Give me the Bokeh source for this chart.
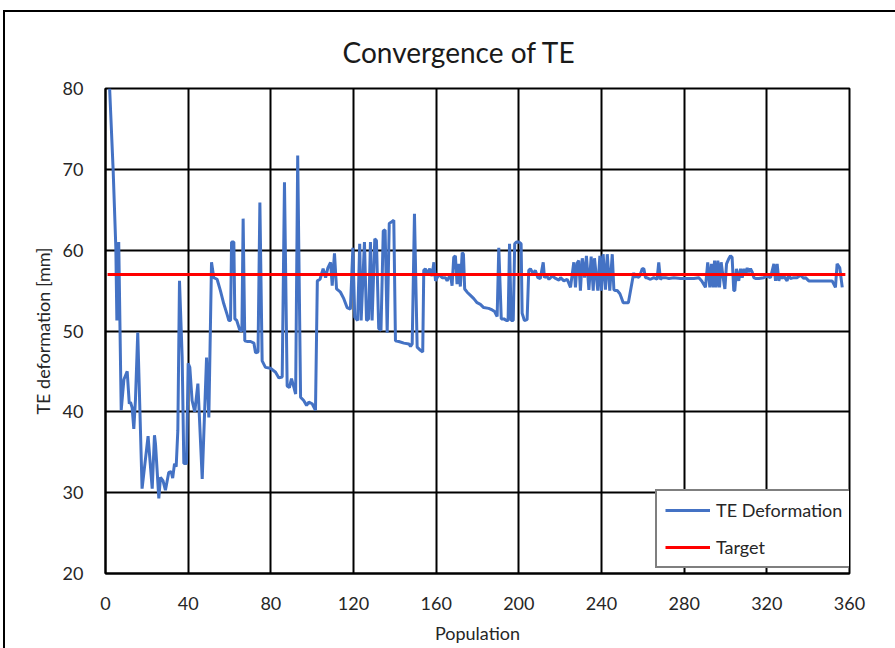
from bokeh.plotting import figure
from bokeh.models import Legend, LegendItem, FixedTicker, Range1d
from bokeh.embed import file_html
from bokeh.resources import INLINE

title_text = "Convergence of TE"
x_label = "Population"
y_label = "TE deformation [mm]"
series_name = "TE Deformation"
target_name = "Target"

x_ticks = [0, 40, 80, 120, 160, 200, 240, 280, 320, 360]
y_ticks = [20, 30, 40, 50, 60, 70, 80]

population = [
    2.0, 3.7, 5.0, 5.5, 6.4, 7.6, 8.9, 10.5, 11.5, 12.1, 12.9, 13.7, 14.5, 15.6,
    17.7, 20.6, 22.6, 23.7, 24.2, 25.8, 26.6, 27.8, 29.0, 30.6, 31.8, 32.5, 33.4,
    34.2, 35.0, 35.8, 37.1, 37.9, 39.2, 40.0, 40.8, 41.9, 43.2, 44.7, 46.8, 48.9,
    50.0, 51.3, 52.4, 54.0, 55.6, 57.2, 58.9, 59.7, 60.5, 61.0, 62.1, 62.6, 63.5,
    65.0, 66.0, 66.6, 67.4, 68.8, 70.2, 71.8, 72.6, 73.8, 74.7, 75.8, 77.4, 79.8,
    82.3, 83.9, 85.5, 86.6, 87.9, 89.0, 90.0, 91.2, 92.0, 93.0, 94.4, 95.9, 97.3,
    98.4, 100.0, 101.6, 102.5, 103.8, 105.3, 106.5, 107.6, 108.9, 109.7, 110.8,
    111.8, 113.7, 115.3, 116.9, 118.5, 119.7, 120.6, 122.0, 123.0, 123.7, 125.3,
    126.3, 127.3, 128.2, 129.0, 130.3, 131.1, 132.2, 133.3, 134.4, 135.3, 136.3,
    137.3, 138.4, 139.5, 140.3, 141.9, 144.4, 146.8, 147.6, 148.4, 149.5, 150.8,
    152.4, 153.5, 154.0, 154.8, 155.6, 156.9, 158.0, 158.9, 159.7, 161.3, 162.9,
    164.5, 165.3, 166.9, 167.7, 168.5, 169.3, 170.1, 170.9, 171.7, 172.6, 173.2,
    173.8, 175.0, 176.6, 178.2, 179.8, 181.4, 183.0, 185.4, 187.1, 188.3, 188.7,
    189.5, 190.3, 191.5, 192.8, 194.0, 194.8, 195.5, 196.3, 197.3, 198.0, 198.8,
    200.0, 201.1, 201.6, 202.7, 204.0, 204.8, 205.6, 206.9, 208.0, 209.2, 210.4,
    211.8, 212.4, 213.4, 214.6, 216.2, 217.8, 219.4, 220.2, 221.8, 223.4, 225.0,
    226.6, 227.4, 228.2, 229.0, 229.8, 230.7, 231.8, 232.7, 233.9, 235.0, 236.0,
    236.6, 238.2, 239.2, 239.9, 240.8, 241.9, 242.8, 244.0, 245.2, 246.0, 246.6,
    247.6, 248.9, 249.5, 250.5, 251.1, 253.0, 255.6, 256.1, 256.9, 257.6, 258.5,
    259.7, 260.5, 261.3, 261.8, 263.7, 265.3, 266.9, 267.7, 268.5, 269.4, 271.0,
    272.6, 275.0, 278.2, 279.8, 281.5, 284.7, 287.1, 288.5, 290.3, 291.4, 292.4,
    293.2, 294.0, 294.7, 295.5, 296.3, 297.1, 297.9, 298.7, 299.7, 300.5, 301.5,
    302.4, 303.2, 304.0, 304.5, 305.3, 306.4, 307.3, 308.1, 308.9, 309.7, 310.5,
    311.3, 312.1, 312.9, 313.7, 314.5, 316.1, 318.5, 320.2, 321.8, 323.4, 324.2,
    325.0, 325.8, 326.6, 327.4, 328.2, 329.8, 330.6, 331.4, 333.0, 334.7, 336.3,
    337.9, 338.7, 340.3, 342.7, 346.0, 349.2, 351.6, 353.2, 354.0, 355.3, 356.5,
    357.6,
]

te_deformation = [
    80.0, 69.9, 60.3, 51.3, 61.0, 40.2, 44.0, 45.0, 41.0, 41.2, 40.5, 37.9, 41.5, 49.8,
    30.5, 37.0, 30.5, 37.1, 36.0, 29.3, 31.9, 31.5, 30.3, 32.5, 32.6, 31.8, 33.6,
    33.2, 37.7, 56.2, 46.7, 33.6, 33.6, 46.0, 45.5, 41.4, 40.0, 43.5, 31.7, 46.7,
    39.3, 58.5, 56.6, 56.4, 55.0, 53.4, 52.0, 51.3, 51.3, 61.0, 61.0, 51.5, 51.3,
    50.1, 50.0, 63.9, 48.8, 48.7, 48.7, 48.5, 47.3, 47.4, 65.9, 46.3, 45.5, 45.4,
    44.9, 44.2, 44.3, 68.4, 43.2, 43.0, 44.1, 43.0, 42.2, 71.7, 41.8, 41.4, 40.8,
    41.2, 41.0, 40.2, 56.2, 56.4, 57.7, 56.6, 57.8, 58.5, 55.6, 59.6,
    55.2, 54.8, 54.0, 52.9, 52.7, 60.3, 51.7, 51.3, 60.8, 51.3, 61.0,
    51.3, 51.5, 61.0, 51.3, 61.4, 61.2, 50.3, 50.1, 62.4, 62.5, 49.8,
    63.3, 63.5, 63.7, 48.8, 48.7, 48.5, 48.4, 48.1, 48.4, 64.5, 48.0,
    47.6, 47.4, 57.5, 57.7, 57.1, 57.7, 56.8, 58.5, 56.2, 57.0, 56.6,
    56.6, 56.2, 57.0, 55.6, 59.1, 59.3, 55.8, 58.3, 55.5, 59.7, 59.5,
    55.2, 54.8, 54.4, 54.0, 53.5, 53.3, 52.9, 52.8, 52.6, 52.4, 52.2,
    51.8, 60.3, 51.5, 51.5, 51.3, 51.3, 60.8, 51.3, 51.3, 60.8, 61.0,
    61.0, 60.8, 52.2, 51.3, 51.4, 57.5, 57.7, 57.1, 57.5, 56.6, 56.5,
    58.5, 56.6, 56.8, 56.4, 56.8, 56.5, 56.3, 56.6, 56.2, 56.4,
    55.4, 58.5, 55.4, 58.4, 58.7, 55.0, 59.0, 56.6, 59.3, 55.1, 59.2,
    55.0, 59.0, 55.0, 59.3, 55.0, 59.5, 55.1, 59.5, 55.0, 59.5, 55.1,
    55.0, 55.0, 54.6, 54.2, 53.5, 53.5, 53.5, 57.2, 56.6, 57.0, 56.6,
    56.8, 57.7, 57.7, 56.6, 56.6, 56.4, 56.6, 56.4, 58.5, 56.4, 56.6,
    56.6, 56.5, 56.6, 56.5, 56.5, 56.5, 56.5, 56.6, 56.2, 55.4, 58.5,
    55.4, 58.3, 55.4, 58.7, 55.4, 58.7, 55.4, 58.5, 56.9, 55.2, 58.3,
    58.9, 59.3, 59.1, 55.0, 55.0, 57.7, 56.2, 57.7, 56.6, 57.7, 56.9,
    57.8, 57.3, 57.7, 57.3, 56.6, 56.5, 56.5, 56.6, 56.8, 56.6, 58.3,
    56.2, 58.3, 56.2, 57.0, 56.5, 56.8, 56.2, 57.0, 56.5, 56.6, 56.6,
    56.9, 56.5, 56.6, 56.2, 56.2, 56.2, 56.2, 56.2, 55.4, 58.3, 57.8,
    55.4,
]

target_x = [1, 358]
target_y = [57, 57]

FONT = "Lato"
TXT = "#262626"

p = figure(
    width=890, height=636,
    output_backend="svg", toolbar_location=None,
    x_range=Range1d(0, 360), y_range=Range1d(20, 80),
    frame_width=744, frame_height=485,
    min_border_left=100, min_border_right=46, min_border_top=76, min_border_bottom=75,
    background_fill_color="white", border_fill_color="white",
)
p.styles = {
    "border-left": "2px solid black",
    "border-top": "2px solid black",
    "margin-left": "3px",
    "margin-top": "10px",
}

p.title.text = title_text
p.title.align = "left"
p.title.text_font = FONT
p.title.text_font_size = "28px"
p.title.text_font_style = "normal"
p.title.text_color = "#1a1a1a"
p.title.offset = 237
p.title.standoff = 39

r1 = p.line(population, te_deformation, line_color="#4472C4", line_width=3)
r2 = p.line(target_x, target_y, line_color="#FF0000", line_width=3)

p.xaxis.ticker = FixedTicker(ticks=x_ticks)
p.yaxis.ticker = FixedTicker(ticks=y_ticks)
for ax in (p.xaxis[0], p.yaxis[0]):
    ax.major_tick_line_color = None
    ax.minor_tick_line_color = None
    ax.axis_line_color = "black"
    ax.axis_line_width = 2
    ax.major_label_text_font = FONT
    ax.major_label_text_font_size = "18px"
    ax.major_label_text_color = TXT
    ax.axis_label_text_font = FONT
    ax.axis_label_text_font_size = "18px"
    ax.axis_label_text_font_style = "normal"
    ax.axis_label_text_color = TXT
p.xaxis.axis_label = x_label
p.yaxis.axis_label = y_label
p.xaxis.major_label_standoff = 17
p.xaxis.axis_label_standoff = 9
p.yaxis.major_label_standoff = 16
p.yaxis.axis_label_standoff = 6

p.xgrid.ticker = FixedTicker(ticks=x_ticks)
p.ygrid.ticker = FixedTicker(ticks=y_ticks)
p.grid.grid_line_color = "black"
p.grid.grid_line_width = 2
p.grid.grid_line_alpha = 1.0
p.outline_line_color = "black"
p.outline_line_width = 2

legend = Legend(
    items=[LegendItem(label=series_name, renderers=[r1]),
           LegendItem(label=target_name, renderers=[r2])],
    location=(550, 5),
    glyph_width=45, glyph_height=20, label_height=20,
    label_standoff=6, spacing=15, padding=8, margin=0,
    label_text_font=FONT, label_text_font_size="18px", label_text_color=TXT,
    border_line_color="black", border_line_width=2,
    background_fill_color="white", background_fill_alpha=1.0,
)
p.add_layout(legend, "center")

open("out.html", "w").write(file_html(p, INLINE))
